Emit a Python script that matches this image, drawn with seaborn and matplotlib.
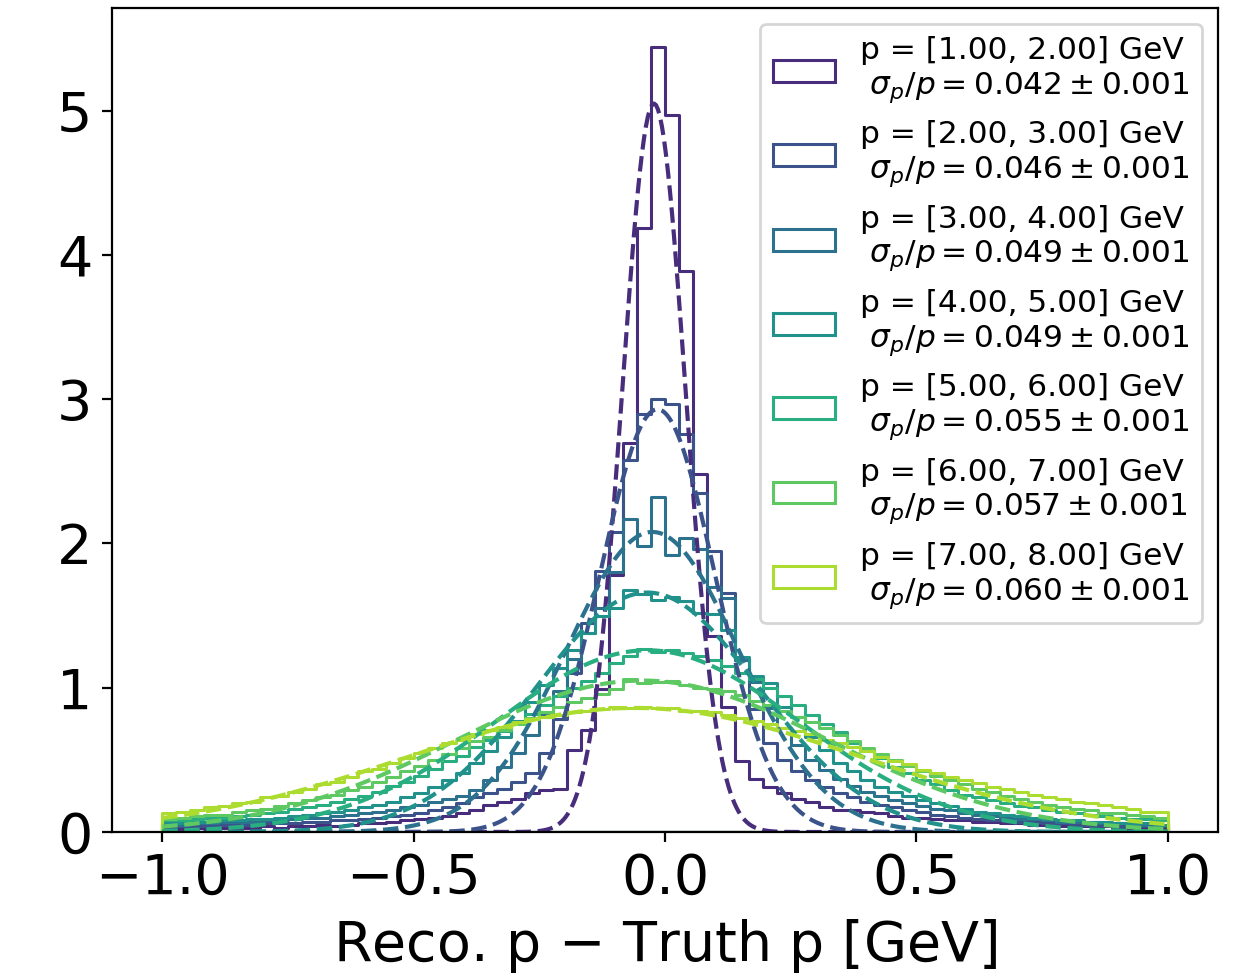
import numpy as np
import matplotlib
matplotlib.use("Agg")
import matplotlib.pyplot as plt
import seaborn as sns

# momentum bins (GeV) and fitted relative resolution
p_low = [1.0, 2.0, 3.0, 4.0, 5.0, 6.0, 7.0]
p_high = [2.0, 3.0, 4.0, 5.0, 6.0, 7.0, 8.0]
sigma_rel = [0.042, 0.046, 0.049, 0.049, 0.055, 0.057, 0.060]
sigma_rel_err = [0.001, 0.001, 0.001, 0.001, 0.001, 0.001, 0.001]

# gaussian fit parameters
fit_amp = [5.05, 2.93, 2.08, 1.66, 1.26, 1.05, 0.86]
fit_mean = [-0.022, -0.015, -0.025, -0.035, -0.035, -0.045, -0.06]
fit_sigma = [0.063, 0.115, 0.1715, 0.2205, 0.3025, 0.3705, 0.45]

# histogram range / number of bins (density normalised)
x_min, x_max, n_bins = -1.0, 1.0, 72

hist_p1 = [0.02, 0.02, 0.03, 0.02, 0.03, 0.03, 0.03, 0.04, 0.03, 0.04,
           0.04, 0.05, 0.04, 0.05, 0.06, 0.06, 0.07, 0.08, 0.09, 0.10,
           0.11, 0.13, 0.15, 0.19, 0.21, 0.23, 0.27, 0.29, 0.30, 0.57,
           0.71, 0.99, 1.78, 2.70, 4.19, 5.44, 4.97, 3.89, 2.48, 1.36,
           0.87, 0.49, 0.37, 0.31, 0.27, 0.23, 0.21, 0.17, 0.15, 0.15,
           0.14, 0.13, 0.11, 0.10, 0.10, 0.09, 0.08, 0.08, 0.07, 0.07,
           0.06, 0.06, 0.05, 0.05, 0.04, 0.04, 0.04, 0.04, 0.03, 0.03,
           0.03, 0.03]
hist_p2 = [0.03, 0.04, 0.04, 0.04, 0.05, 0.05, 0.05, 0.06, 0.06, 0.06,
           0.07, 0.07, 0.08, 0.08, 0.09, 0.10, 0.11, 0.12, 0.13, 0.15,
           0.17, 0.20, 0.24, 0.27, 0.30, 0.35, 0.41, 0.55, 0.78, 1.10,
           1.45, 1.81, 2.08, 2.58, 2.90, 3.00, 2.97, 2.76, 2.35, 1.95,
           1.66, 1.19, 0.85, 0.62, 0.50, 0.42, 0.36, 0.31, 0.27, 0.24,
           0.21, 0.19, 0.17, 0.15, 0.14, 0.12, 0.11, 0.10, 0.09, 0.08,
           0.08, 0.07, 0.07, 0.06, 0.06, 0.05, 0.05, 0.05, 0.04, 0.04,
           0.04, 0.04]
hist_p3 = [0.06, 0.05, 0.06, 0.06, 0.07, 0.07, 0.07, 0.08, 0.08, 0.09,
           0.10, 0.10, 0.11, 0.12, 0.13, 0.14, 0.15, 0.17, 0.19, 0.21,
           0.23, 0.25, 0.29, 0.36, 0.45, 0.55, 0.67, 0.82, 0.98, 1.20,
           1.38, 1.55, 1.80, 2.17, 1.98, 2.32, 1.92, 2.04, 1.96, 1.70,
           1.62, 1.19, 1.04, 0.86, 0.72, 0.60, 0.50, 0.43, 0.37, 0.32,
           0.28, 0.25, 0.22, 0.20, 0.18, 0.16, 0.15, 0.13, 0.12, 0.11,
           0.10, 0.09, 0.09, 0.08, 0.07, 0.07, 0.06, 0.06, 0.06, 0.05,
           0.05, 0.05]
hist_p4 = [0.07, 0.06, 0.07, 0.07, 0.08, 0.08, 0.09, 0.09, 0.10, 0.11,
           0.12, 0.13, 0.14, 0.15, 0.17, 0.19, 0.21, 0.24, 0.27, 0.31,
           0.36, 0.41, 0.48, 0.56, 0.66, 0.77, 0.90, 1.02, 1.14, 1.26,
           1.38, 1.50, 1.55, 1.68, 1.65, 1.61, 1.63, 1.60, 1.52, 1.51,
           1.40, 1.21, 1.08, 1.03, 0.87, 0.80, 0.66, 0.57, 0.48, 0.42,
           0.36, 0.31, 0.28, 0.25, 0.22, 0.20, 0.18, 0.16, 0.14, 0.13,
           0.12, 0.11, 0.10, 0.09, 0.08, 0.08, 0.07, 0.07, 0.06, 0.06,
           0.06, 0.05]
hist_p5 = [0.08, 0.08, 0.09, 0.10, 0.10, 0.11, 0.12, 0.13, 0.14, 0.16,
           0.17, 0.19, 0.21, 0.23, 0.25, 0.28, 0.32, 0.35, 0.39, 0.44,
           0.49, 0.53, 0.59, 0.64, 0.70, 0.76, 0.82, 0.88, 0.94, 1.00,
           1.05, 1.10, 1.17, 1.22, 1.27, 1.25, 1.26, 1.24, 1.22, 1.19,
           1.15, 1.10, 1.06, 1.00, 0.94, 0.88, 0.81, 0.75, 0.69, 0.62,
           0.56, 0.51, 0.45, 0.41, 0.36, 0.33, 0.29, 0.26, 0.24, 0.22,
           0.20, 0.18, 0.17, 0.15, 0.14, 0.13, 0.12, 0.11, 0.10, 0.09,
           0.09, 0.08]
hist_p6 = [0.09, 0.10, 0.11, 0.12, 0.12, 0.14, 0.15, 0.16, 0.18, 0.20,
           0.22, 0.24, 0.26, 0.29, 0.31, 0.35, 0.38, 0.42, 0.46, 0.50,
           0.54, 0.58, 0.63, 0.66, 0.71, 0.75, 0.79, 0.83, 0.87, 0.90,
           0.93, 0.96, 0.99, 1.06, 1.03, 1.04, 1.05, 1.02, 1.00, 0.99,
           0.98, 0.95, 0.91, 0.88, 0.84, 0.80, 0.76, 0.72, 0.67, 0.63,
           0.58, 0.54, 0.50, 0.46, 0.42, 0.39, 0.36, 0.33, 0.30, 0.28,
           0.25, 0.23, 0.21, 0.19, 0.17, 0.16, 0.15, 0.13, 0.13, 0.12,
           0.11, 0.10]
hist_p7 = [0.13, 0.14, 0.15, 0.17, 0.18, 0.20, 0.21, 0.24, 0.25, 0.28,
           0.30, 0.33, 0.35, 0.38, 0.42, 0.44, 0.48, 0.51, 0.55, 0.58,
           0.62, 0.64, 0.68, 0.71, 0.73, 0.76, 0.78, 0.80, 0.81, 0.83,
           0.84, 0.85, 0.87, 0.86, 0.87, 0.86, 0.86, 0.84, 0.84, 0.83,
           0.81, 0.79, 0.77, 0.75, 0.72, 0.70, 0.68, 0.64, 0.62, 0.59,
           0.56, 0.52, 0.49, 0.47, 0.43, 0.41, 0.38, 0.36, 0.34, 0.31,
           0.30, 0.28, 0.26, 0.24, 0.23, 0.21, 0.20, 0.19, 0.17, 0.16,
           0.14, 0.14]

hists = [hist_p1, hist_p2, hist_p3, hist_p4, hist_p5, hist_p6, hist_p7]


def gauss(x, a, mu, sig):
    return a * np.exp(-0.5 * ((x - mu) / sig) ** 2)


def main():
    edges = np.linspace(x_min, x_max, n_bins + 1)
    centers = 0.5 * (edges[:-1] + edges[1:])
    x_fit = np.linspace(x_min, x_max, 500)
    colors = sns.color_palette("viridis", len(hists))

    fig = plt.figure(figsize=(6.22, 4.885), dpi=200)
    ax = fig.add_axes([0.090, 0.1484, 0.8891, 0.8434])

    for i, vals in enumerate(hists):
        label = (f"p = [{p_low[i]:.2f}, {p_high[i]:.2f}] GeV\n"
                 f" $\\sigma_p/p = {sigma_rel[i]:.3f} \\pm {sigma_rel_err[i]:.3f}$")
        # seaborn compares bins to "auto", so hand it a plain list
        sns.histplot(x=centers, weights=vals, bins=list(edges), stat="count",
                     element="step", fill=True, facecolor="none",
                     color=colors[i], linewidth=1.1, label=label, ax=ax)
        sns.lineplot(x=x_fit, y=gauss(x_fit, fit_amp[i], fit_mean[i], fit_sigma[i]),
                     color=colors[i], linestyle="--", linewidth=1.5, ax=ax)

    ax.set_xlim(-1.1, 1.1)
    ax.set_ylim(bottom=0)
    ax.set_xticks([-1.0, -0.5, 0.0, 0.5, 1.0])
    ax.set_yticks([0, 1, 2, 3, 4, 5])
    ax.tick_params(labelsize=20)
    ax.set_xlabel("Reco. p $-$ Truth p [GeV]", fontsize=20)
    ax.set_ylabel("")
    ax.legend(loc="upper right", fontsize=11.25)

    fig.savefig("out.png", dpi=200)
    plt.close(fig)


if __name__ == "__main__":
    main()
